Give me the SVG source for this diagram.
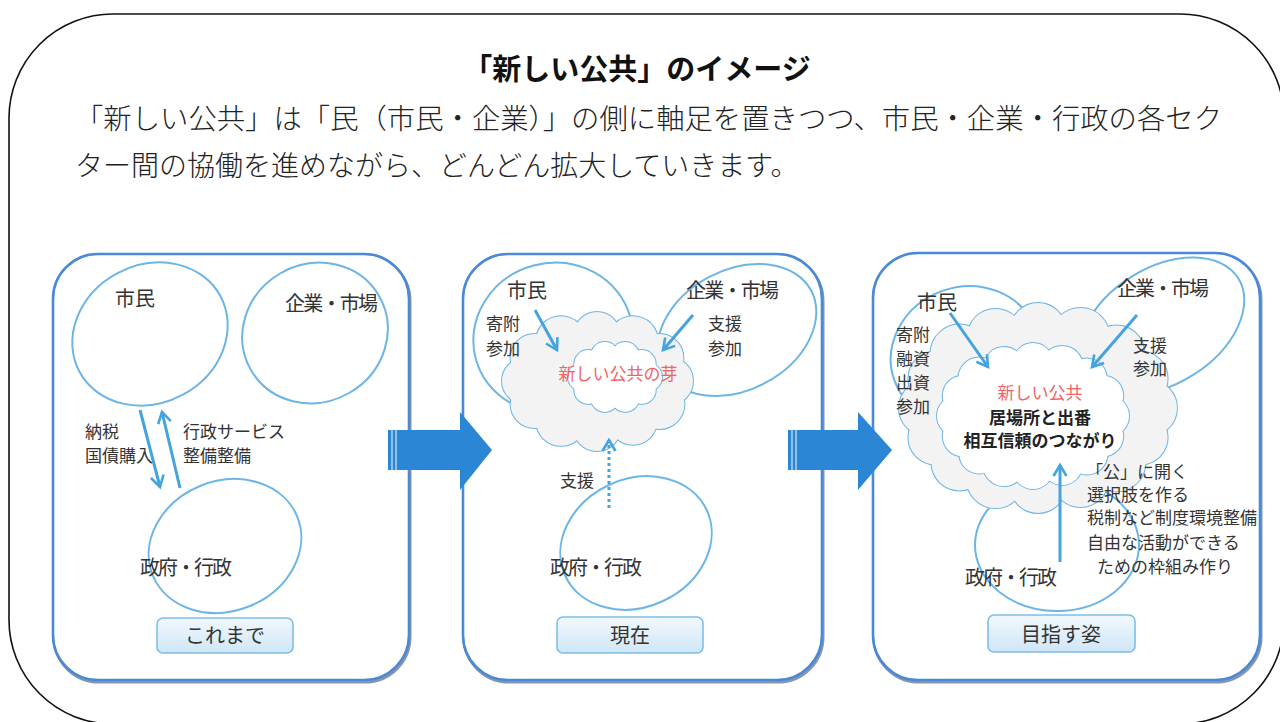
<svg xmlns="http://www.w3.org/2000/svg" xmlns:xlink="http://www.w3.org/1999/xlink" width="1280" height="722" viewBox="0 0 1280 722">
<style>
  text { font-family: "Noto Sans CJK JP", "Noto Sans", sans-serif; fill: #333; }
  .title { font-size: 29px; font-weight: bold; fill: #111; }
  .body { font-size: 28px; fill: #222; font-weight: 300; }
  .lbl { font-size: 20px; }
  .sm { font-size: 17px; }
  .red { fill: #f06464; }
  .bold { font-weight: bold; fill: #222; }
  .panel { fill: #fff; stroke: #4a8ad4; stroke-width: 2.6; }
  .panelShadow { fill: none; stroke: #26406a; stroke-width: 3; opacity: 0.55; }
  .ell { fill: #fff; stroke: #6db5e6; stroke-width: 2; }
  .cS { stroke: #6db5e6; stroke-width: 2; }
  .cF { stroke: none; }
  .gray { fill: #f3f3f3; }
  .white { fill: #fff; }
  .btn { fill: url(#btnGrad); stroke: #7fbde8; stroke-width: 1.6; }
  .conn { stroke: #45a3df; stroke-width: 3; fill: none; }
  .big { fill: #2b87d6; }
</style>
<defs>
  <linearGradient id="btnGrad" x1="0" y1="0" x2="0" y2="1">
    <stop offset="0" stop-color="#f2f8fd"/>
    <stop offset="1" stop-color="#cfe6f7"/>
  </linearGradient>
  <marker id="chev" markerUnits="userSpaceOnUse" markerWidth="16" markerHeight="16" viewBox="0 0 16 16" refX="13" refY="8" orient="auto">
    <path d="M2,1.5 L13,8 L2,14.5" fill="none" stroke="#45a3df" stroke-width="2.6"/>
  </marker>
  <g id="cloud2big">
    <ellipse cx="597" cy="381" rx="72" ry="46"/>
    <circle cx="669" cy="381" r="24"/>
    <circle cx="659.4" cy="404" r="25"/>
    <circle cx="633" cy="420.8" r="24"/>
    <circle cx="597" cy="427" r="24"/>
    <circle cx="561" cy="420.8" r="25"/>
    <circle cx="534.6" cy="404" r="24"/>
    <circle cx="525" cy="381" r="23"/>
    <circle cx="534.6" cy="358" r="24"/>
    <circle cx="561" cy="341.2" r="25"/>
    <circle cx="597" cy="335" r="23"/>
    <circle cx="633" cy="341.2" r="25"/>
    <circle cx="659.4" cy="358" r="24"/>
  </g>
  <g id="cloud2small">
    <ellipse cx="615" cy="377" rx="33" ry="22"/>
    <circle cx="648" cy="377" r="14"/>
    <circle cx="641.7" cy="389.9" r="14"/>
    <circle cx="625.2" cy="397.9" r="14"/>
    <circle cx="604.8" cy="397.9" r="14"/>
    <circle cx="588.3" cy="389.9" r="14"/>
    <circle cx="582" cy="377" r="14"/>
    <circle cx="588.3" cy="364.1" r="14"/>
    <circle cx="604.8" cy="356.1" r="14"/>
    <circle cx="625.2" cy="356.1" r="14"/>
    <circle cx="641.7" cy="364.1" r="14"/>
  </g>
  <g id="cloud3big">
    <ellipse cx="1038" cy="408" rx="111" ry="77"/>
    <circle cx="1149" cy="408" r="28"/>
    <circle cx="1140.6" cy="437.5" r="27"/>
    <circle cx="1116.5" cy="462.4" r="29"/>
    <circle cx="1080.5" cy="479.1" r="28"/>
    <circle cx="1038" cy="485" r="28"/>
    <circle cx="995.5" cy="479.1" r="29"/>
    <circle cx="959.5" cy="462.4" r="28"/>
    <circle cx="935.4" cy="437.5" r="27"/>
    <circle cx="927" cy="408" r="28"/>
    <circle cx="935.4" cy="378.5" r="27"/>
    <circle cx="959.5" cy="353.6" r="29"/>
    <circle cx="995.5" cy="336.9" r="28"/>
    <circle cx="1038" cy="331" r="28"/>
    <circle cx="1080.5" cy="336.9" r="29"/>
    <circle cx="1116.5" cy="353.6" r="28"/>
    <circle cx="1140.6" cy="378.5" r="27"/>
  </g>
  <g id="cloud3small">
    <ellipse cx="1033" cy="416" rx="76" ry="53"/>
    <circle cx="1109" cy="416" r="20"/>
    <circle cx="1103.2" cy="436.3" r="20"/>
    <circle cx="1086.7" cy="453.5" r="21"/>
    <circle cx="1062.1" cy="465" r="20"/>
    <circle cx="1033" cy="469" r="20"/>
    <circle cx="1003.9" cy="465" r="21"/>
    <circle cx="979.3" cy="453.5" r="20"/>
    <circle cx="962.8" cy="436.3" r="20"/>
    <circle cx="957" cy="416" r="20"/>
    <circle cx="962.8" cy="395.7" r="20"/>
    <circle cx="979.3" cy="378.5" r="21"/>
    <circle cx="1003.9" cy="367" r="20"/>
    <circle cx="1033" cy="363" r="20"/>
    <circle cx="1062.1" cy="367" r="21"/>
    <circle cx="1086.7" cy="378.5" r="20"/>
    <circle cx="1103.2" cy="395.7" r="20"/>
  </g>
</defs>

<rect width="1280" height="722" fill="#fff"/>

<g id="frame">
  <rect x="9" y="14" width="1275" height="710" rx="104" ry="104" fill="none" stroke="#111" stroke-width="1.6"/>
</g>

<g id="heading">
  <text class="title" x="637" y="80" text-anchor="middle">「新しい公共」のイメージ</text>
  <text class="body" x="75" y="129" textLength="1147" lengthAdjust="spacingAndGlyphs">「新しい公共」は「民（市民・企業）」の側に軸足を置きつつ、市民・企業・行政の各セク</text>
  <text class="body" x="75" y="176">ター間の協働を進めながら、どんどん拡大していきます。</text>
</g>

<!-- Panel 1 -->
<g id="panel-1">
  <rect class="panelShadow" x="54" y="256" width="356" height="426" rx="45"/>
  <rect class="panel" x="53" y="254" width="356" height="426" rx="45"/>
  <g id="p1-shimin">
    <ellipse class="ell" cx="150" cy="334" rx="80" ry="69" transform="rotate(-28 150 334)"/>
    <text class="lbl" x="135" y="306" text-anchor="middle">市民</text>
  </g>
  <g id="p1-kigyo">
    <ellipse class="ell" cx="315" cy="333" rx="74" ry="69" transform="rotate(-30 315 333)"/>
    <text class="lbl" x="285" y="311" textLength="93" lengthAdjust="spacing">企業・市場</text>
  </g>
  <g id="p1-seifu">
    <ellipse class="ell" cx="225" cy="546" rx="78" ry="65" transform="rotate(-22 225 546)"/>
    <text class="lbl" x="140" y="575" textLength="92" lengthAdjust="spacing">政府・行政</text>
  </g>
  <g id="p1-labels">
    <text class="sm" x="85" y="438">納税</text>
    <text class="sm" x="85" y="462">国債購入</text>
    <text class="sm" x="183" y="438">行政サービス</text>
    <text class="sm" x="183" y="462">整備整備</text>
  </g>
  <g id="p1-button">
    <rect class="btn" x="157" y="618" width="136" height="35" rx="6"/>
    <text class="lbl" x="225" y="643" text-anchor="middle">これまで</text>
  </g>
</g>

<!-- Panel 2 -->
<g id="panel-2">
  <rect class="panelShadow" x="464" y="256" width="359" height="426" rx="45"/>
  <rect class="panel" x="463" y="254" width="359" height="426" rx="45"/>
  <g id="p2-shimin">
    <ellipse class="ell" cx="553" cy="338" rx="80" ry="75" transform="rotate(-15 553 338)"/>
  </g>
  <g id="p2-kigyo">
    <ellipse class="ell" cx="737" cy="330" rx="84" ry="60" transform="rotate(-28 737 330)"/>
  </g>
  <g id="p2-seifu">
    <ellipse class="ell" cx="636" cy="543" rx="78" ry="64" transform="rotate(-25 636 543)"/>
    <text class="lbl" x="550" y="575" textLength="92" lengthAdjust="spacing">政府・行政</text>
  </g>
  <g id="p2-cloud">
    <use xlink:href="#cloud2big" class="cS gray"/>
    <use xlink:href="#cloud2big" class="cF gray"/>
    <use xlink:href="#cloud2small" class="cS white"/>
    <use xlink:href="#cloud2small" class="cF white"/>
    <text class="sm red" x="618" y="380" text-anchor="middle">新しい公共の芽</text>
  </g>
  <g id="p2-labels">
    <text class="lbl" x="527" y="298" text-anchor="middle">市民</text>
    <text class="sm" x="486" y="330">寄附</text>
    <text class="sm" x="486" y="355">参加</text>
    <text class="lbl" x="686" y="298" textLength="93" lengthAdjust="spacing">企業・市場</text>
    <text class="sm" x="708" y="330">支援</text>
    <text class="sm" x="708" y="355">参加</text>
    <text class="sm" x="560" y="487">支援</text>
  </g>
  <g id="p2-button">
    <rect class="btn" x="557" y="617" width="146" height="36" rx="6"/>
    <text class="lbl" x="630" y="643" text-anchor="middle">現在</text>
  </g>
</g>

<!-- Panel 3 -->
<g id="panel-3">
  <rect class="panelShadow" x="874" y="255" width="387" height="427" rx="45"/>
  <rect class="panel" x="873" y="253" width="387" height="427" rx="45"/>
  <g id="p3-shimin">
    <ellipse class="ell" cx="965" cy="355" rx="75" ry="68" transform="rotate(-20 965 355)"/>
  </g>
  <g id="p3-kigyo">
    <ellipse class="ell" cx="1162" cy="326" rx="90" ry="58" transform="rotate(-32 1162 326)"/>
  </g>
  <g id="p3-seifu">
    <ellipse class="ell" cx="1057" cy="545" rx="82" ry="66"/>
  </g>
  <g id="p3-cloud">
    <use xlink:href="#cloud3big" class="cS gray"/>
    <use xlink:href="#cloud3big" class="cF gray"/>
    <use xlink:href="#cloud3small" class="cS white"/>
    <use xlink:href="#cloud3small" class="cF white"/>
    <text class="sm red" x="1040" y="399" text-anchor="middle">新しい公共</text>
    <text class="sm bold" x="1040" y="424" text-anchor="middle">居場所と出番</text>
    <text class="sm bold" x="1040" y="447" text-anchor="middle">相互信頼のつながり</text>
  </g>
  <g id="p3-labels">
    <text class="lbl" x="937" y="310" text-anchor="middle">市民</text>
    <text class="lbl" x="1117" y="296" textLength="92" lengthAdjust="spacing">企業・市場</text>
    <text class="lbl" x="965" y="585" textLength="92" lengthAdjust="spacing">政府・行政</text>
    <text class="sm" x="896" y="341">寄附</text>
    <text class="sm" x="896" y="365">融資</text>
    <text class="sm" x="896" y="389">出資</text>
    <text class="sm" x="896" y="413">参加</text>
    <text class="sm" x="1133" y="352">支援</text>
    <text class="sm" x="1133" y="375">参加</text>
    <text class="sm" x="1086" y="478">「公」に開く</text>
    <text class="sm" x="1087" y="501">選択肢を作る</text>
    <text class="sm" x="1087" y="524">税制など制度環境整備</text>
    <text class="sm" x="1087" y="549">自由な活動ができる</text>
    <text class="sm" x="1097" y="573">ための枠組み作り</text>
  </g>
  <g id="p3-button">
    <rect class="btn" x="988" y="615" width="147" height="37" rx="6"/>
    <text class="lbl" x="1061" y="642" text-anchor="middle">目指す姿</text>
  </g>
</g>

<!-- Connectors -->
<g id="connectors">
  <line class="conn" x1="140" y1="410" x2="160" y2="487" marker-end="url(#chev)"/>
  <line class="conn" x1="180" y1="488" x2="162" y2="412" marker-end="url(#chev)"/>
  <line class="conn" x1="535" y1="310" x2="557" y2="350" marker-end="url(#chev)"/>
  <line class="conn" x1="693" y1="315" x2="663" y2="350" marker-end="url(#chev)"/>
  <line class="conn" x1="609" y1="508" x2="609" y2="440" stroke-dasharray="3 3" stroke-width="2.5" marker-end="url(#chev)"/>
  <line class="conn" x1="950" y1="313" x2="988" y2="367" marker-end="url(#chev)"/>
  <line class="conn" x1="1137" y1="315" x2="1092" y2="367" marker-end="url(#chev)"/>
  <line class="conn" x1="1060" y1="562" x2="1060" y2="465" marker-end="url(#chev)"/>
  <g id="big-arrow-1">
    <path class="big" d="M388,430 H460 V412 L492,450 L460,490 V470 H388 Z"/>
    <path d="M392,430 V470 M396,430 V470" stroke="#fff" stroke-width="1.2" opacity="0.8"/>
  </g>
  <g id="big-arrow-2">
    <path class="big" d="M788,430 H858 V412 L892,450 L858,490 V470 H788 Z"/>
    <path d="M792,430 V470 M796,430 V470" stroke="#fff" stroke-width="1.2" opacity="0.8"/>
  </g>
</g>
</svg>
